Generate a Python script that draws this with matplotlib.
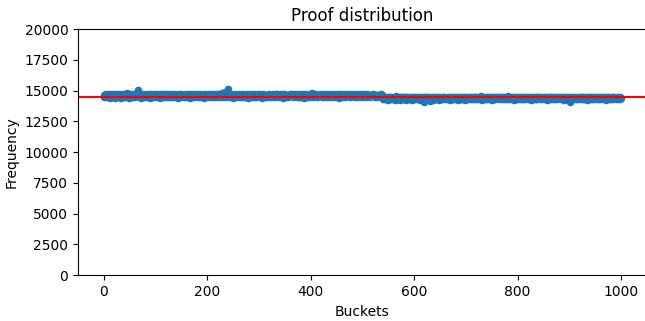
import matplotlib
matplotlib.use("Agg")
import matplotlib.pyplot as plt
import numpy as np

title = "Proof distribution"
x_label = "Buckets"
y_label = "Frequency"
expected = 14500

frequencies = [
    14520, 14680, 14610, 14450, 14730, 14590, 14470, 14640, 14560, 14700, 14510, 14620, 14390, 14580, 14670, 14530, 14750, 14600, 14480, 14650,
    14570, 14430, 14690, 14610, 14540, 14720, 14460, 14630, 14580, 14500, 14660, 14740, 14550, 14420, 14610, 14680, 14530, 14590, 14710, 14470,
    14620, 14560, 14690, 14480, 14600, 14770, 14540, 14650, 14410, 14580, 14700, 14630, 14520, 14590, 14680, 14450, 14610, 14740, 14560, 14500,
    14660, 14590, 14710, 14530, 14820, 15060, 14620, 14470, 14580, 14690, 14550, 14640, 14420, 14600, 14730, 14510, 14580, 14660, 14490, 14620,
    14570, 14700, 14450, 14610, 14680, 14540, 14590, 14760, 14520, 14630, 14400, 14570, 14690, 14610, 14480, 14650, 14560, 14720, 14530, 14600,
    14640, 14510, 14580, 14700, 14460, 14620, 14550, 14680, 14590, 14430, 14710, 14570, 14640, 14500, 14600, 14750, 14530, 14610, 14470, 14660,
    14580, 14690, 14520, 14610, 14740, 14560, 14440, 14630, 14590, 14700, 14510, 14650, 14570, 14480, 14620, 14680, 14550, 14600, 14730, 14460,
    14610, 14540, 14670, 14590, 14420, 14700, 14560, 14630, 14500, 14590, 14760, 14530, 14620, 14680, 14470, 14580, 14650, 14520, 14600, 14710,
    14550, 14640, 14480, 14590, 14700, 14620, 14530, 14410, 14660, 14580, 14720, 14510, 14600, 14650, 14560, 14470, 14690, 14610, 14540, 14630,
    14580, 14720, 14500, 14610, 14660, 14450, 14590, 14700, 14560, 14630, 14520, 14680, 14600, 14430, 14570, 14740, 14620, 14540, 14650, 14590,
    14510, 14670, 14600, 14560, 14710, 14480, 14620, 14580, 14690, 14530, 14640, 14460, 14600, 14730, 14570, 14520, 14660, 14610, 14440, 14690,
    14590, 14640, 14530, 14700, 14580, 14620, 14490, 14660, 14780, 14550, 14610, 14680, 14520, 14600, 14720, 14860, 14570, 14640, 14500, 15090,
    14690, 14560, 14620, 14480, 14650, 14590, 14710, 14530, 14600, 14670, 14420, 14580, 14640, 14550, 14700, 14610, 14490, 14630, 14570, 14680,
    14540, 14620, 14700, 14590, 14450, 14650, 14560, 14610, 14740, 14520, 14600, 14670, 14480, 14580, 14630, 14550, 14690, 14610, 14430, 14570,
    14660, 14590, 14520, 14640, 14710, 14570, 14480, 14620, 14680, 14550, 14600, 14730, 14510, 14590, 14650, 14460, 14610, 14570, 14700, 14540,
    14630, 14580, 14690, 14500, 14610, 14660, 14430, 14590, 14720, 14560, 14640, 14520, 14600, 14680, 14570, 14470, 14650, 14610, 14540, 14700,
    14580, 14630, 14490, 14670, 14600, 14550, 14710, 14620, 14460, 14590, 14650, 14530, 14690, 14610, 14570, 14740, 14500, 14620, 14580, 14660,
    14540, 14610, 14700, 14480, 14630, 14590, 14660, 14420, 14600, 14720, 14560, 14640, 14510, 14680, 14620, 14570, 14450, 14650, 14600, 14530,
    14690, 14580, 14620, 14760, 14540, 14600, 14670, 14490, 14630, 14590, 14710, 14550, 14610, 14480, 14660, 14580, 14640, 14520, 14700, 14600,
    14570, 14650, 14510, 14620, 14690, 14580, 14430, 14640, 14600, 14730, 14550, 14610, 14680, 14520, 14590, 14660, 14470, 14620, 14580, 14700,
    14640, 14560, 14810, 14610, 14500, 14670, 14590, 14630, 14720, 14540, 14600, 14680, 14460, 14620, 14570, 14650, 14530, 14690, 14610, 14580,
    14660, 14510, 14620, 14700, 14580, 14440, 14640, 14590, 14670, 14550, 14610, 14740, 14520, 14600, 14680, 14570, 14490, 14630, 14590, 14710,
    14550, 14620, 14680, 14500, 14610, 14650, 14570, 14730, 14480, 14600, 14640, 14560, 14690, 14610, 14430, 14580, 14660, 14620, 14540, 14700,
    14590, 14640, 14520, 14680, 14600, 14570, 14710, 14490, 14630, 14580, 14660, 14540, 14620, 14750, 14560, 14610, 14470, 14650, 14590, 14690,
    14530, 14600, 14670, 14580, 14640, 14450, 14620, 14700, 14560, 14610, 14680, 14510, 14590, 14650, 14570, 14720, 14540, 14600, 14660, 14490,
    14630, 14580, 14690, 14610, 14550, 14670, 14500, 14620, 14590, 14740, 14560, 14640, 14470, 14600, 14680, 14570, 14620, 14530, 14660, 14600,
    14580, 14700, 14540, 14620, 14650, 14490, 14600, 14570, 14680, 14610, 14520, 14640, 14590, 14660, 14550, 14610, 14700, 14580, 14630, 14560,
    14350, 14420, 14280, 14470, 14390, 14310, 14520, 14360, 14430, 14250, 14400, 14480, 14330, 14380, 14450, 14290, 14410, 14360, 14500, 14340,
    14420, 14370, 14260, 14450, 14390, 14530, 14320, 14410, 14350, 14470, 14300, 14400, 14440, 14230, 14380, 14490, 14360, 14420, 14310, 14460,
    14390, 14330, 14480, 14410, 14270, 14440, 14370, 14510, 14350, 14420, 14300, 14460, 14390, 14340, 14430, 14250, 14400, 14470, 14360, 14410,
    14320, 14450, 14380, 14420, 14290, 14500, 14370, 14410, 14340, 14460, 14390, 14270, 14430, 14360, 14480, 14320, 14400, 14350, 14090, 14440,
    14380, 14310, 14470, 14400, 14350, 14520, 14290, 14420, 14370, 14450, 14330, 14160, 14410, 14380, 14490, 14340, 14400, 14260, 14440, 14370,
    14420, 14350, 14480, 14300, 14400, 14460, 14370, 14230, 14430, 14390, 14510, 14340, 14410, 14370, 14280, 14450, 14390, 14330, 14470, 14400,
    14360, 14430, 14290, 14410, 14380, 14500, 14340, 14420, 14370, 14260, 14450, 14390, 14320, 14470, 14400, 14350, 14430, 14300, 14480, 14380,
    14410, 14340, 14460, 14390, 14270, 14430, 14370, 14520, 14350, 14410, 14300, 14440, 14390, 14360, 14480, 14320, 14400, 14450, 14250, 14420,
    14380, 14470, 14330, 14410, 14360, 14490, 14300, 14430, 14390, 14350, 14460, 14280, 14420, 14380, 14510, 14340, 14400, 14370, 14440, 14310,
    14450, 14390, 14330, 14420, 14360, 14480, 14300, 14410, 14380, 14530, 14350, 14430, 14270, 14400, 14460, 14370, 14410, 14320, 14490, 14390,
    14340, 14440, 14380, 14290, 14420, 14370, 14500, 14330, 14410, 14450, 14360, 14240, 14430, 14390, 14470, 14350, 14400, 14310, 14460, 14380,
    14420, 14360, 14490, 14400, 14330, 14450, 14380, 14280, 14440, 14370, 14410, 14520, 14340, 14400, 14460, 14300, 14430, 14390, 14350, 14480,
    14390, 14560, 14340, 14420, 14370, 14470, 14310, 14410, 14380, 14500, 14350, 14430, 14260, 14400, 14450, 14360, 14420, 14330, 14490, 14380,
    14410, 14350, 14460, 14390, 14280, 14430, 14370, 14510, 14340, 14400, 14450, 14320, 14420, 14380, 14470, 14300, 14410, 14360, 14440, 14390,
    14330, 14480, 14400, 14360, 14420, 14270, 14450, 14380, 14410, 14340, 14500, 14370, 14430, 14310, 14400, 14460, 14350, 14420, 14290, 14440,
    14380, 14410, 14470, 14340, 14400, 14360, 14520, 14390, 14300, 14430, 14370, 14450, 14330, 14410, 14490, 14360, 14400, 14250, 14440, 14380,
    14420, 14350, 14460, 14390, 14310, 14440, 14370, 14500, 14340, 14410, 14380, 14470, 14290, 14420, 14360, 14450, 14400, 14330, 14480, 14390,
    14360, 14430, 14380, 14510, 14320, 14410, 14450, 14350, 14400, 14270, 14440, 14380, 14420, 14340, 14470, 14390, 14300, 14430, 14370, 14460,
    14400, 14100, 14350, 14420, 14380, 14490, 14330, 14410, 14360, 14450, 14280, 14430, 14390, 14340, 14470, 14370, 14410, 14320, 14500, 14380,
    14440, 14360, 14410, 14300, 14450, 14390, 14350, 14480, 14400, 14330, 14420, 14370, 14510, 14340, 14400, 14260, 14430, 14380, 14460, 14350,
    14410, 14470, 14330, 14400, 14370, 14440, 14290, 14420, 14380, 14500, 14340, 14410, 14450, 14360, 14400, 14310, 14470, 14390, 14350, 14430,
    14380, 14440, 14320, 14410, 14480, 14360, 14400, 14340, 14450, 14390, 14270, 14430, 14370, 14490, 14350, 14410, 14380, 14460, 14300, 14420,
    14390, 14350, 14470, 14400, 14330, 14440, 14380, 14500, 14360, 14410, 14290, 14430, 14390, 14450, 14340, 14400, 14370, 14480, 14320, 14410,
]
buckets = list(range(len(frequencies)))
x_ticks = [0, 200, 400, 600, 800, 1000]
y_ticks = [0, 2500, 5000, 7500, 10000, 12500, 15000, 17500, 20000]

fig = plt.figure(figsize=(6.45, 3.21), dpi=100)
ax = fig.add_axes([0.121, 0.1425, 0.882, 0.767])
ax.scatter(buckets, frequencies, s=20, color="C0")
ax.axhline(expected, color="red", linewidth=1.5)
ax.set_xlim(-50, 1050)
ax.set_ylim(0, 20000)
ax.set_xticks(x_ticks)
ax.set_yticks(y_ticks)
ax.spines["right"].set_visible(False)
ax.set_title(title)
ax.set_xlabel(x_label)
ax.set_ylabel(y_label)
fig.savefig("out.png", dpi=100)
